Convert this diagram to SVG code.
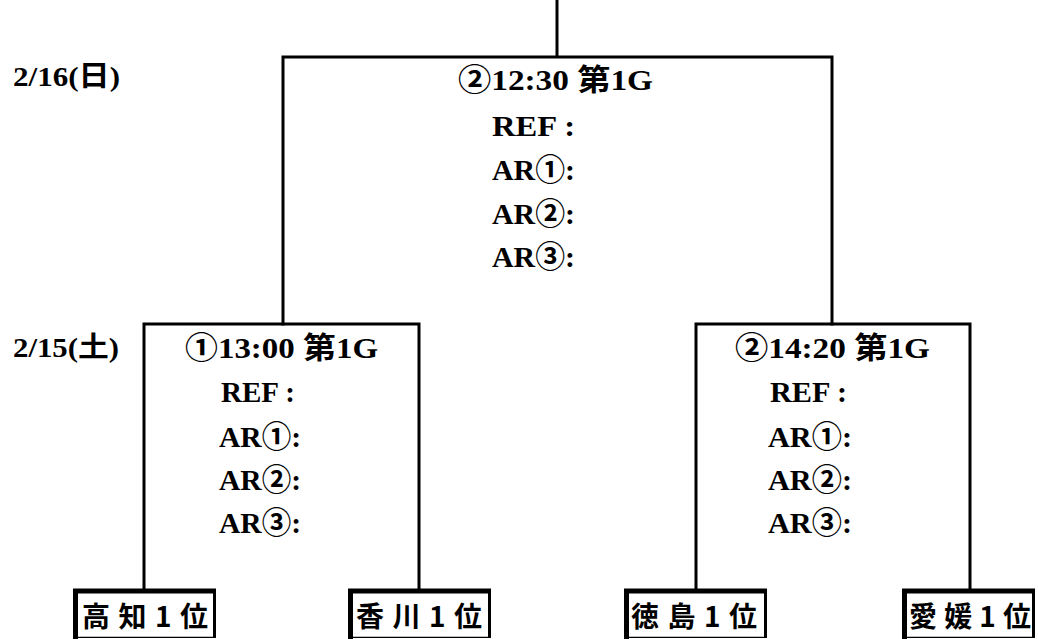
<svg xmlns="http://www.w3.org/2000/svg" width="1038" height="639" viewBox="0 0 1038 639">
<style>
.ln{stroke:#000;stroke-width:3;fill:none;stroke-linecap:square}
.t{font-family:"Liberation Serif","Noto Sans CJK JP",serif;font-weight:bold;font-size:30px;fill:#000}
.d{font-family:"Liberation Serif","Noto Sans CJK JP",serif;font-weight:bold;font-size:28px;fill:#000}
.tm{font-family:"Noto Sans CJK JP","Noto Sans CJK SC",sans-serif;font-weight:bold;font-size:28px;fill:#000}
.bt{stroke:#000;stroke-width:5;fill:none}
.br{stroke:#000;stroke-width:3;fill:none}
.bb{stroke:#000;stroke-width:1.2;fill:none}
</style>
<rect width="1038" height="639" fill="#fff"/>
<g id="connectors">
<line class="ln" x1="557" y1="0" x2="557" y2="57" style="stroke-linecap:butt"/>
<path class="ln" d="M283 324 V57 H832 V324"/>
<path class="ln" d="M144 589 V324 H419 V589"/>
<path class="ln" d="M696 589 V324 H970 V589"/>
</g>
<g id="date-0216"><text class="d" x="13" y="86" textLength="107" lengthAdjust="spacingAndGlyphs">2/16(日)</text></g>
<g id="date-0215"><text class="d" x="13" y="357" textLength="106" lengthAdjust="spacingAndGlyphs">2/15(土)</text></g>
<g id="match-final">
<text class="t" x="458" y="90" textLength="195" lengthAdjust="spacingAndGlyphs">②12:30 第1G</text>
<text class="t" x="492" y="136" textLength="83" lengthAdjust="spacingAndGlyphs">REF :</text>
<text class="t" x="492" y="180" textLength="83" lengthAdjust="spacingAndGlyphs">AR①:</text>
<text class="t" x="492" y="224" textLength="83" lengthAdjust="spacingAndGlyphs">AR②:</text>
<text class="t" x="492" y="267" textLength="83" lengthAdjust="spacingAndGlyphs">AR③:</text>
</g>
<g id="match-1">
<text class="t" x="185" y="358" textLength="193" lengthAdjust="spacingAndGlyphs">①13:00 第1G</text>
<text class="t" x="221" y="402" textLength="74" lengthAdjust="spacingAndGlyphs">REF :</text>
<text class="t" x="219" y="447" textLength="82" lengthAdjust="spacingAndGlyphs">AR①:</text>
<text class="t" x="219" y="490" textLength="82" lengthAdjust="spacingAndGlyphs">AR②:</text>
<text class="t" x="219" y="533" textLength="82" lengthAdjust="spacingAndGlyphs">AR③:</text>
</g>
<g id="match-2">
<text class="t" x="735" y="358" textLength="195" lengthAdjust="spacingAndGlyphs">②14:20 第1G</text>
<text class="t" x="770" y="402" textLength="77" lengthAdjust="spacingAndGlyphs">REF :</text>
<text class="t" x="768" y="447" textLength="84" lengthAdjust="spacingAndGlyphs">AR①:</text>
<text class="t" x="768" y="490" textLength="84" lengthAdjust="spacingAndGlyphs">AR②:</text>
<text class="t" x="768" y="533" textLength="84" lengthAdjust="spacingAndGlyphs">AR③:</text>
</g>
<g id="team-kochi">
<path class="bb" d="M75 637.4 H214.5"/>
<path class="br" d="M214.5 591 V638"/>
<path class="bt" d="M75.5 639 V591 H216"/>
<text class="tm" x="82" y="627" textLength="126" lengthAdjust="spacing">高 知 1 位</text>
</g>
<g id="team-kagawa">
<path class="bb" d="M350 637.4 H489.5"/>
<path class="br" d="M489.5 591 V638"/>
<path class="bt" d="M350.5 639 V591 H491"/>
<text class="tm" x="356" y="627" textLength="126" lengthAdjust="spacing">香 川 1 位</text>
</g>
<g id="team-tokushima">
<path class="bb" d="M626 637.4 H765.5"/>
<path class="br" d="M765.5 591 V638"/>
<path class="bt" d="M626.5 639 V591 H767"/>
<text class="tm" x="631" y="627" textLength="126" lengthAdjust="spacing">徳 島 1 位</text>
</g>
<g id="team-ehime">
<path class="bb" d="M904 637.4 H1033.5"/>
<path class="br" d="M1033.5 591 V638"/>
<path class="bt" d="M904.5 639 V591 H1035"/>
<text class="tm" x="909" y="627" textLength="122" lengthAdjust="spacing">愛 媛 1 位</text>
</g>
</svg>
